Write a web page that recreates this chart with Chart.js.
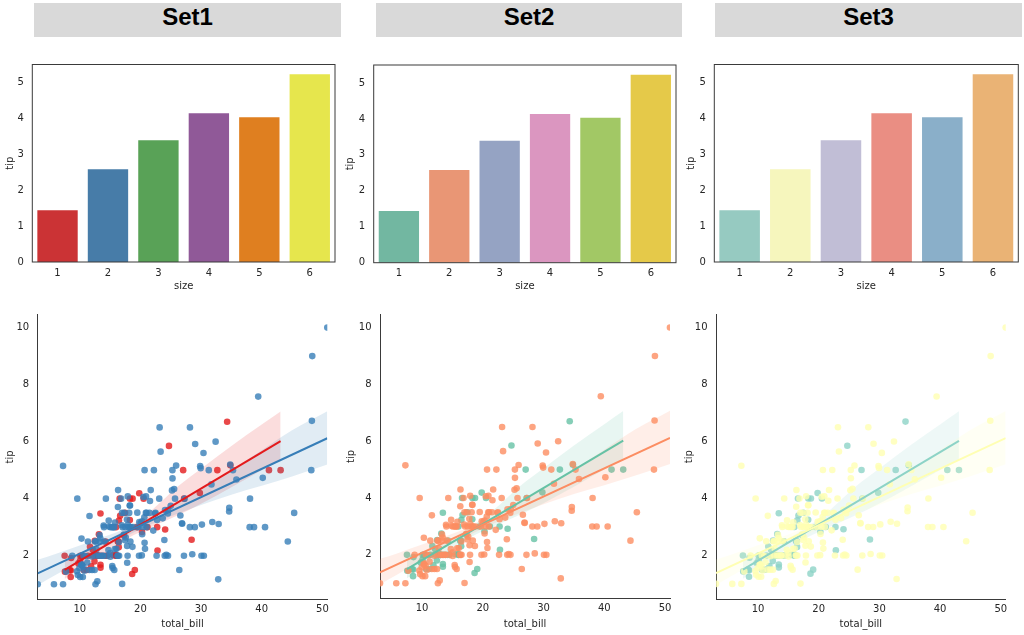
<!DOCTYPE html>
<html>
<head>
<meta charset="utf-8">
<script src="https://cdn.jsdelivr.net/npm/chart.js@4/dist/chart.umd.min.js"></script>
<style>
  body { margin: 0; width: 1024px; height: 635px; background: #fff; position: relative; overflow: hidden; }
  .panel { position: absolute; }
  .title { position: absolute; top: 3px; height: 34px; line-height: 34px; background: #d9d9d9;
           font: bold 24px "Liberation Sans", Arial, sans-serif; color: #000; text-align: center; }
</style>
</head>
<body>
<div class="title" style="left:34px;width:307px">Set1</div>
<div class="title" style="left:376px;width:306px">Set2</div>
<div class="title" style="left:715px;width:307px">Set3</div>
<script>
// bar chart: mean tip by party size
const sizes = ["1", "2", "3", "4", "5", "6"];
const meanTip = [1.44, 2.58, 3.39, 4.14, 4.03, 5.23];
const barTicks = [0, 1, 2, 3, 4, 5];

// scatter: total_bill vs tip, split Lunch / Dinner
const lunchBill = [27.2, 22.76, 17.29, 19.44, 16.66, 10.07, 32.68, 15.98, 34.83, 13.03, 18.28, 24.71, 21.16,
  10.65, 12.43, 24.08, 11.69, 13.42, 14.26, 15.95, 12.48, 29.8, 8.52, 14.52, 11.38, 22.82, 19.08, 20.27, 11.17,
  12.26, 18.26, 8.51, 10.33, 14.15, 16.0, 13.16, 17.47, 34.3, 41.19, 27.05, 16.43, 8.35, 18.64, 11.87, 9.78, 7.51,
  19.81, 28.44, 15.48, 16.58, 7.56, 10.34, 43.11, 13.0, 13.51, 18.71, 12.74, 13.0, 16.4, 20.53, 16.47,
  12.16, 13.42, 8.58, 15.98, 13.42, 16.27, 10.09];
const lunchTip = [4.0, 3.0, 2.71, 3.0, 3.4, 1.83, 5.0, 2.03, 5.17, 2.0, 4.0, 5.85, 3.0,
  1.5, 1.8, 2.92, 2.31, 1.68, 2.5, 2.0, 2.52, 4.2, 1.48, 2.0, 2.0, 2.18, 1.5, 2.83, 1.5,
  2.0, 3.25, 1.25, 2.0, 2.0, 2.0, 2.75, 3.5, 6.7, 5.0, 5.0, 2.3, 1.5, 1.36, 1.63, 1.73, 2.0,
  4.19, 2.56, 2.02, 4.0, 1.44, 2.0, 5.0, 2.0, 2.0, 4.0, 2.01, 2.0, 2.5, 4.0, 3.23,
  2.2, 3.48, 1.92, 3.0, 1.58, 2.5, 2.0];
const dinnerBill = [16.99, 10.34, 21.01, 23.68, 24.59, 25.29, 8.77, 26.88, 15.04, 14.78, 10.27, 35.26, 15.42, 18.43,
  14.83, 21.58, 10.33, 16.29, 16.97, 20.65, 17.92, 20.29, 15.77, 39.42, 19.82, 17.81, 13.37, 12.69, 21.7, 19.65,
  9.55, 18.35, 15.06, 20.69, 17.78, 24.06, 16.31, 16.93, 18.69, 31.27, 16.04, 17.46, 13.94, 9.68, 30.4, 18.29,
  22.23, 32.4, 28.55, 18.04, 12.54, 10.29, 34.81, 9.94, 25.56, 19.49, 38.01, 26.41, 11.24, 48.27, 20.29, 13.81,
  11.02, 18.29, 17.59, 20.08, 16.45, 3.07, 20.23, 15.01, 12.02, 17.07, 26.86, 25.28, 14.73, 10.51, 17.92,
  28.97, 22.49, 5.75, 16.32, 22.75, 40.17, 27.28, 12.03, 21.01, 12.46, 11.35, 15.38, 44.3, 22.42, 20.92, 15.36,
  20.49, 25.21, 18.24, 14.31, 14.0, 7.25, 38.07, 23.95, 25.71, 17.31, 29.93,
  14.07, 13.13, 17.26, 24.55, 19.77, 29.85, 48.17, 25.0, 13.39, 16.49, 21.5, 12.66, 16.21, 13.81, 17.51, 24.52,
  20.76, 31.71, 10.59, 10.63, 50.81, 15.81, 7.25, 31.85, 16.82, 32.9, 17.89, 14.48, 9.6, 34.63, 34.65, 23.33,
  45.35, 23.17, 40.55, 20.69, 20.9, 30.46, 18.15, 23.1, 15.69,
  26.59, 38.73, 24.27, 12.76, 30.06, 25.89, 48.33, 13.27, 28.17, 12.9, 28.15, 11.59, 7.74, 30.14,
  20.45, 13.28, 22.12, 24.01, 15.69, 11.61, 10.77, 15.53, 10.07, 12.6, 32.83, 35.83, 29.03, 27.18, 22.67, 17.82, 18.78];
const dinnerTip = [1.01, 1.66, 3.5, 3.31, 3.61, 4.71, 2.0, 3.12, 1.96, 3.23, 1.71, 5.0, 1.57, 3.0,
  3.02, 3.92, 1.67, 3.71, 3.5, 3.35, 4.08, 2.75, 2.23, 7.58, 3.18, 2.34, 2.0, 2.0, 4.3, 3.0,
  1.45, 2.5, 3.0, 2.45, 3.27, 3.6, 2.0, 3.07, 2.31, 5.0, 2.24, 2.54, 3.06, 1.32, 5.6, 3.0,
  5.0, 6.0, 2.05, 3.0, 2.5, 2.6, 5.2, 1.56, 4.34, 3.51, 3.0, 1.5, 1.76, 6.73, 3.21, 2.0,
  1.98, 3.76, 2.64, 3.15, 2.47, 1.0, 2.01, 2.09, 1.97, 3.0, 3.14, 5.0, 2.2, 1.25, 3.08,
  3.0, 3.5, 1.0, 4.3, 3.25, 4.73, 4.0, 1.5, 3.0, 1.5, 2.5, 3.0, 2.5, 3.48, 4.08, 1.64,
  4.06, 4.29, 3.76, 4.0, 3.0, 1.0, 4.0, 2.55, 4.0, 3.5, 5.07,
  2.5, 2.0, 2.74, 2.0, 2.0, 5.14, 5.0, 3.75, 2.61, 2.0, 3.5, 2.5, 2.0, 2.0, 3.0, 3.48,
  2.24, 4.5, 1.61, 2.0, 10.0, 3.16, 5.15, 3.18, 4.0, 3.11, 2.0, 2.0, 4.0, 3.55, 3.68, 5.65,
  3.5, 6.5, 3.0, 5.0, 3.5, 2.0, 3.5, 4.0, 1.5,
  3.41, 3.0, 2.03, 2.23, 2.0, 5.16, 9.0, 2.5, 6.5, 1.1, 3.0, 1.5, 1.44, 3.09,
  3.0, 2.72, 2.88, 2.0, 3.0, 3.39, 1.47, 3.0, 1.25, 1.0, 1.17, 4.67, 5.92, 2.0, 2.0, 1.75, 3.0];

// fitted lines and confidence bands
const lunchFitX = [7.51, 43.11];
const lunchFitY = [1.5, 6.02];
const dinnerFitX = [3.07, 50.81];
const dinnerFitY = [1.38, 6.12];
const lunchBandX = [7.51, 10, 14, 18, 22, 26, 30, 35, 40, 43.11];
const lunchBandHi = [1.82, 2.06, 2.48, 2.98, 3.62, 4.4, 5.05, 5.85, 6.6, 7.06];
const lunchBandLo = [1.18, 1.56, 2.12, 2.62, 3.02, 3.4, 3.82, 4.4, 5.0, 5.35];
const dinnerBandX = [3.07, 6, 10, 14, 18, 22, 26, 30, 35, 40, 45, 50.81];
const dinnerBandHi = [1.86, 2.06, 2.36, 2.66, 2.99, 3.39, 3.85, 4.35, 5.0, 5.7, 6.4, 7.07];
const dinnerBandLo = [0.96, 1.32, 1.8, 2.28, 2.72, 3.12, 3.46, 3.78, 4.14, 4.45, 4.78, 5.2];
const billTicks = [10, 20, 30, 40, 50];
const tipTicks = [2, 4, 6, 8, 10];

// palettes (bars are desaturated like seaborn does)
const barColors = [
  ["#cb3335", "#477ca8", "#59a257", "#905998", "#df7f20", "#e6e64d"],
  ["#72b7a1", "#e99675", "#95a3c3", "#db96c0", "#a2c865", "#e5c949"],
  ["#96cac1", "#f6f6bd", "#c1bed6", "#ea8e83", "#8aafc9", "#eab375"],
];
const pointColors = [
  { lunch: [228, 26, 28], dinner: [55, 126, 184] },
  { lunch: [102, 194, 165], dinner: [252, 141, 98] },
  { lunch: [141, 211, 199], dinner: [255, 255, 179] },
];

const barLayout = [
  { left: 0, width: 340, pad: { left: 0, right: 5, top: 14.3, bottom: 0 }, yw: 32.3, xh: 34 },
  { left: 340, width: 341, pad: { left: 0, right: 5, top: 15, bottom: 0 }, yw: 33.7, xh: 33.3 },
  { left: 681, width: 343, pad: { left: 0, right: 5.7, top: 14.3, bottom: 0 }, yw: 33.3, xh: 34 },
];
const scatterLayout = [
  { left: 0, width: 341, pad: { left: 0, right: 13.7, top: 7.7, bottom: 0 }, yw: 37.7, xh: 34.7 },
  { left: 341, width: 338, pad: { left: 0, right: 9, top: 6.7, bottom: 0 }, yw: 39, xh: 35.7 },
  { left: 679, width: 345, pad: { left: 0, right: 18.3, top: 7, bottom: 0 }, yw: 37, xh: 35 },
];

const ink = "#262626";
const spine = "#3a3a3a";
const font = { family: "DejaVu Sans", size: 10 };

const rgba = (c, a) => `rgba(${c[0]}, ${c[1]}, ${c[2]}, ${a})`;
const pts = (xs, ys) => xs.map((x, i) => ({ x: x, y: ys[i] }));
const fixTicks = (list) => (scale) => { scale.ticks = list.map((v) => ({ value: v })); };

const frame = {
  id: "frame",
  afterDraw(chart) {
    const { ctx, chartArea: a } = chart;
    ctx.save();
    ctx.strokeStyle = spine;
    ctx.lineWidth = 1;
    ctx.strokeRect(a.left, a.top, a.right - a.left, a.bottom - a.top);
    ctx.restore();
  },
};

function makeCanvas(left, top, width, height) {
  const div = document.createElement("div");
  div.className = "panel";
  div.style.cssText = `left:${left}px;top:${top}px;width:${width}px;height:${height}px`;
  const canvas = document.createElement("canvas");
  div.appendChild(canvas);
  document.body.appendChild(div);
  return canvas;
}

function barChart(i) {
  const lay = barLayout[i];
  new Chart(makeCanvas(lay.left, 50, lay.width, 246), {
    type: "bar",
    data: {
      labels: sizes,
      datasets: [{
        data: meanTip,
        backgroundColor: barColors[i],
        borderWidth: 0,
        barPercentage: 0.8,
        categoryPercentage: 1,
      }],
    },
    options: {
      responsive: true,
      maintainAspectRatio: false,
      animation: false,
      layout: { padding: lay.pad },
      plugins: { legend: { display: false }, tooltip: { enabled: false } },
      scales: {
        x: {
          grid: { display: false, drawTicks: false },
          border: { display: false },
          ticks: { color: ink, font: font, padding: 5, maxRotation: 0 },
          title: { display: true, text: "size", color: ink, font: font, padding: { top: 2, bottom: 4 } },
          afterFit: (s) => { s.height = lay.xh; },
        },
        y: {
          min: 0,
          max: 5.5,
          grid: { display: false, drawTicks: false },
          border: { display: false },
          afterBuildTicks: fixTicks(barTicks),
          ticks: { color: ink, font: font, padding: 8.5 },
          title: { display: true, text: "tip", color: ink, font: font, padding: { top: 4, bottom: 2 } },
          afterFit: (s) => { s.width = lay.yw; },
        },
      },
    },
    plugins: [frame],
  });
}

function scatterChart(i) {
  const lay = scatterLayout[i];
  const c = pointColors[i];
  const dot = (col, order, xs, ys) => ({
    data: pts(xs, ys),
    showLine: false,
    pointRadius: 3.3,
    pointBackgroundColor: rgba(col, 0.8),
    pointBorderWidth: 0,
    pointBorderColor: "transparent",
    clip: 0,
    order: order,
  });
  const edge = (col, order, xs, ys, fill) => ({
    data: pts(xs, ys),
    borderColor: "transparent",
    borderWidth: 0,
    backgroundColor: rgba(col, 0.15),
    pointRadius: 0,
    cubicInterpolationMode: "monotone",
    fill: fill,
    order: order,
  });
  const fit = (col, order, xs, ys) => ({
    data: pts(xs, ys),
    borderColor: rgba(col, 1),
    borderWidth: 2,
    pointRadius: 0,
    fill: false,
    order: order,
  });
  new Chart(makeCanvas(lay.left, 300, lay.width, 334), {
    type: "line",
    data: {
      datasets: [
        dot(c.lunch, 6, lunchBill, lunchTip),
        edge(c.lunch, 5, lunchBandX, lunchBandHi, "+1"),
        edge(c.lunch, 5, lunchBandX, lunchBandLo, false),
        dot(c.dinner, 4, dinnerBill, dinnerTip),
        edge(c.dinner, 3, dinnerBandX, dinnerBandHi, "+1"),
        edge(c.dinner, 3, dinnerBandX, dinnerBandLo, false),
        fit(c.lunch, 2, lunchFitX, lunchFitY),
        fit(c.dinner, 1, dinnerFitX, dinnerFitY),
      ],
    },
    options: {
      responsive: true,
      maintainAspectRatio: false,
      animation: false,
      layout: { padding: lay.pad },
      plugins: { legend: { display: false }, tooltip: { enabled: false } },
      scales: {
        x: {
          type: "linear",
          min: 3.07,
          max: 50.81,
          grid: { display: false, drawTicks: false },
          border: { display: true, color: spine, width: 1 },
          afterBuildTicks: fixTicks(billTicks),
          ticks: { color: ink, font: font, padding: 4 },
          title: { display: true, text: "total_bill", color: ink, font: font, padding: { top: 2, bottom: 4 } },
          afterFit: (s) => { s.height = lay.xh; },
        },
        y: {
          type: "linear",
          min: 0.47,
          max: 10.46,
          grid: { display: false, drawTicks: false },
          border: { display: true, color: spine, width: 1 },
          afterBuildTicks: fixTicks(tipTicks),
          ticks: { color: ink, font: font, padding: 8.5 },
          title: { display: true, text: "tip", color: ink, font: font, padding: { top: 4, bottom: 2 } },
          afterFit: (s) => { s.width = lay.yw; },
        },
      },
    },
  });
}

for (let i = 0; i < 3; i++) {
  barChart(i);
  scatterChart(i);
}
</script>
</body>
</html>
